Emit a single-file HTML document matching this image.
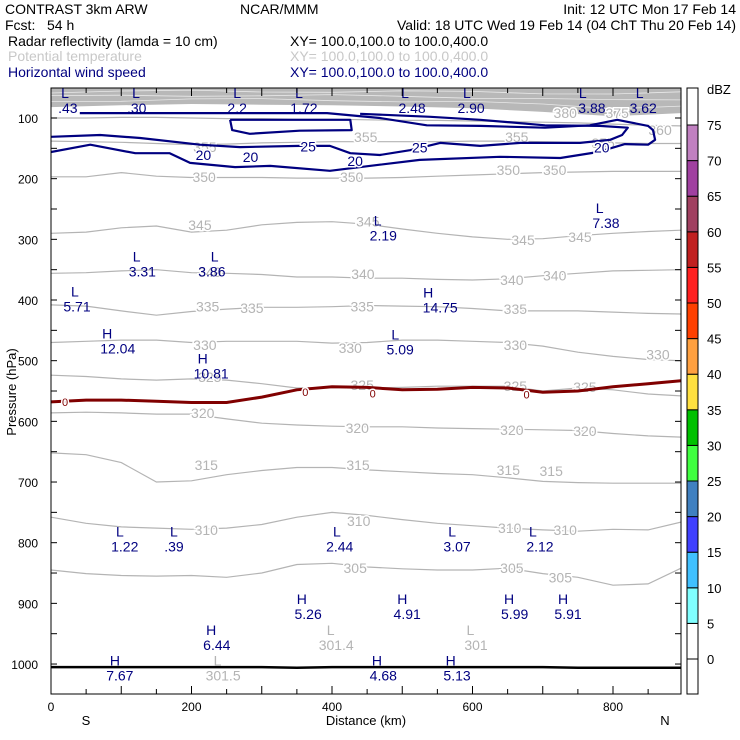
<!DOCTYPE html>
<html><head><meta charset="utf-8"><style>
body{margin:0;background:#fff;}
svg{display:block;font-family:"Liberation Sans",sans-serif;}
</style></head><body>
<svg id="chart" width="740" height="740" viewBox="0 0 740 740" xmlns="http://www.w3.org/2000/svg">
<g font-size="14">
<text x="5" y="14">CONTRAST  3km ARW</text>
<text x="240" y="14">NCAR/MMM</text>
<text x="736" y="14" text-anchor="end">Init: 12 UTC Mon 17 Feb 14</text>
<text x="5" y="30" xml:space="preserve">Fcst:   54 h</text>
<text x="736" y="30" text-anchor="end">Valid: 18 UTC Wed 19 Feb 14 (04 ChT Thu 20 Feb 14)</text>
<text x="8" y="46">Radar reflectivity (lamda = 10 cm)</text>
<text x="290" y="46">XY= 100.0,100.0 to 100.0,400.0</text>
<text x="8" y="61" fill="#c8c8c8">Potential temperature</text>
<text x="290" y="61" fill="#c8c8c8">XY= 100.0,100.0 to 100.0,400.0</text>
<text x="8" y="77" fill="#000080">Horizontal wind speed</text>
<text x="290" y="77" fill="#000080">XY= 100.0,100.0 to 100.0,400.0</text>
</g>
<g id="plot"></g>
</svg>
<script>
const gridKm=[0,50,100,150,200,250,300,350,400,450,500,550,600,650,700,750,800,850,900];
const theta350=[197,197,190,196,198,198,198,199,199,199,198,196,194,192,190,189,188,188,188];
const theta345=[290,288,281,278,288,285,276,272,271,275,283,290,296,300,299,294,290,287,285];
const theta340=[356,355,352,350,355,356,358,362,362,364,364,366,367,365,360,356,352,351,350];
const theta335=[408,410,418,425,419,415,412,412,411,409,410,411,414,418,418,418,420,422,423];
const theta330=[470,468,466,466,470,468,468,468,471,470,466,466,468,470,476,486,493,498,500];
const theta325=[524,526,530,532,530,532,538,545,544,545,544,542,542,542,550,545,548,555,558];
const theta320=[586,585,586,588,588,596,603,606,608,609,609,611,612,613,614,615,620,624,626];
const theta315=[652,655,668,700,698,688,681,676,676,680,683,686,688,693,699,701,702,702,702];
const theta310=[758,768,774,776,778,776,770,758,750,755,762,768,772,776,779,781,778,779,766];
const theta305=[845,851,854,855,854,857,850,836,834,840,843,845,845,842,851,857,870,868,842];
const theta360=[100,100,99,99,100,101,101,102,102,103,104,104,105,106,107,108,110,112,113];
const theta355=[138,139,140,142,144,143,141,140,139,139,139,139,138,138,139,140,141,142,142];
const freezing=[568,565,565,567,569,569,560,548,543,544,548,547,544,545,552,550,543,538,533];
const ground=[1005,1005,1005,1005,1005,1005,1005,1006,1005,1005,1005,1005,1005,1005,1005,1006,1006,1006,1006];
const bandKm=[0,100,200,300,400,500,600,700,800,900];
const bandP=[82,79,77,78,79,81,84,90,97,92];
const wind20=[[0,156],[56,144],[120,158],[169,158],[198,174],[262,181],[312,179],[397,187],[468,177],[525,169],[639,164],[725,166],[779,156],[817,143],[850,144],[860,136],[857,120],[850,113],[806,103],[767,112],[703,116],[611,113],[535,112],[468,100],[393,92],[212,92],[41,92]];
const wind25=[[0,131],[70,128],[127,133],[212,144],[269,148],[354,146],[397,146],[426,158],[468,161],[511,153],[554,141],[611,146],[668,141],[753,141],[796,136],[813,128],[821,116],[781,113],[703,112],[611,103],[540,98],[440,93]];
const wind25b=[[255,103],[426,103],[428,120],[354,121],[283,126],[258,120],[255,103]];
const windLabels=[["20",217,161],["20",284,164],["20",433,171],["20",784,149],["25",366,147],["25",525,149]];
const extremaType=["L","L","L","L","L","L","L","L","L","L","L","L","L","H","H","L","H","L","L","L","L","L","H","H","H","H","H","H","H","H"];
const extremaVal=[".43",".30","2.2","1.72","2.48","2.90","3.88","3.62","7.38","2.19","3.31","3.86","5.71","14.75","12.04","5.09","10.81","1.22",".39","2.44","3.07","2.12","5.26","4.91","5.99","5.91","6.44","7.67","4.68","5.13"];
const extremaLetterKm=[20,121,265,353,504,592,757,838,781,465,122,233,34,537,80,490,216,98,175,407,571,686,357,500,652,729,228,91,464,569];
const extremaValueKm=[24,122,265,360,514,598,770,843,790,473,130,229,37,554,95,497,228,105,175,411,578,696,366,507,660,736,236,98,473,578];
const extremaP=[80,80,80,80,80,80,80,80,270,290,350,350,407,409,477,478,518,803,803,803,803,803,914,914,914,914,965,1016,1016,1016];
const grayExType=["L","L","L"];
const grayExVal=["301.4","301","301.5"];
const grayExKm=[406,605,245];
const grayExP=[965,965,1016];
const thetaLabelText=["355","355","355","355","350","350","350","350","345","345","345","345","340","340","340","340","335","335","335","335","330","330","330","330","325","325","325","325","320","320","320","320","315","315","315","315","310","310","310","310","305","305","305","380","375","360"];
const thetaLabelKm=[219,448,663,786,218,428,651,717,212,451,672,753,226,444,656,717,223,286,443,661,219,426,661,864,226,443,661,760,216,436,656,760,221,437,651,712,221,438,653,732,433,656,725,732,806,867];
const thetaLabelP=[148,131,131,141,197,197,186,186,276,271,301,296,354,357,367,360,411,413,411,415,474,479,474,490,527,540,542,543,586,611,614,616,672,672,680,682,779,764,776,779,842,842,857,92,92,120];
const zeroLabelKm=[20,362,458,677];
const zeroLabelP=[568,552,554,556];
const xTickLabels=[0,200,400,600,800];
const yTickLabels=[100,200,300,400,500,600,700,800,900,1000];
const cbValues=[0,5,10,15,20,25,30,35,40,45,50,55,60,65,70,75];
const cbColors=["#ffffff","#80ffff","#40c0ff","#4040ff","#4080c0","#40ff40","#00c000","#ffe040","#ffa040","#ff4000","#ff2020","#c02020","#a04060","#a040a0","#c080c0","#ffffff"];

const L=51,R=681,T=88,B=694,KMAX=(R-L)/0.7025;
const X=km=>L+km*0.7025;
const Y=p=>118+(p-100)*0.6067;
const CB=v=>659-v*7.12;
const NS="http://www.w3.org/2000/svg";
const plot=document.getElementById('plot');
function mk(tag,attrs,parent){const e=document.createElementNS(NS,tag);for(const k in attrs)e.setAttribute(k,attrs[k]);(parent||plot).appendChild(e);return e;}
function lineFromGrid(arr){return arr.map((p,i)=>(i?'L':'M')+X(Math.min(gridKm[i],KMAX)).toFixed(1)+','+Y(p).toFixed(1)).join('');}
function lineFromPairs(arr){return arr.map((q,i)=>(i?'L':'M')+X(Math.min(q[0],KMAX)).toFixed(1)+','+Y(q[1]).toFixed(1)).join('');}

const defs=mk('defs',{});
const cp=mk('clipPath',{id:'pc'},defs);
mk('rect',{x:L,y:T,width:R-L,height:B-T},cp);
const g=mk('g',{'clip-path':'url(#pc)'});



let bp='M'+L+','+T;
bandKm.forEach((k,i)=>{bp+='L'+X(Math.min(k,KMAX)).toFixed(1)+','+Y(bandP[i]).toFixed(1);});
bp+='L'+R+','+T+'Z';
const band=mk('path',{d:bp,fill:'#b8b8b8'},g);


for(let f=0.2;f<0.95;f+=0.25){
  let d='';
  bandKm.forEach((k,i)=>{const yb=Y(bandP[i]);const yy=T+(yb-T)*f+Math.sin(i*1.7+f*9)*1.2;d+=(i?'L':'M')+X(Math.min(k,KMAX)).toFixed(1)+','+yy.toFixed(1);});
  const wl=mk('path',{d:d,fill:'none',stroke:'#e8e8e8','stroke-width':0.8},g);
  
  
}

const thetaSets=[theta360,theta355,theta350,theta345,theta340,theta335,theta330,theta325,theta320,theta315,theta310,theta305];
thetaSets.forEach(arr=>{
  const pth=mk('path',{d:lineFromGrid(arr),fill:'none',stroke:'#b4b4b4','stroke-width':1.2},g);
  
  
});
thetaLabelText.forEach((t,i)=>{
  const tx=mk('text',{x:X(thetaLabelKm[i]),y:Y(thetaLabelP[i])+5,'text-anchor':'middle','font-size':14,fill:'#b4b4b4',stroke:'#fff','stroke-width':3,'paint-order':'stroke'},g);
  tx.textContent=t;
  
  
});

const fz=mk('path',{d:lineFromGrid(freezing),fill:'none',stroke:'#800000','stroke-width':3},g);


zeroLabelKm.forEach((k,i)=>{
  const tx=mk('text',{x:X(k),y:Y(zeroLabelP[i])+4,'text-anchor':'middle','font-size':11,fill:'#800000',stroke:'#fff','stroke-width':3,'paint-order':'stroke'},g);
  tx.textContent='0';
  
  
});

const gr=mk('path',{d:lineFromGrid(ground),fill:'none',stroke:'#000','stroke-width':2.5},g);



[wind20,wind25,wind25b].forEach(arr=>{
  const w=mk('path',{d:lineFromPairs(arr),fill:'none',stroke:'#000080','stroke-width':2.2,'stroke-linejoin':'round'},g);
  
  
});
windLabels.forEach(l=>{
  const tx=mk('text',{x:X(l[1]),y:Y(l[2])+5,'text-anchor':'middle','font-size':14,fill:'#000080',stroke:'#fff','stroke-width':3,'paint-order':'stroke'},g);
  tx.textContent=l[0];
  
  
});

extremaType.forEach((t,i)=>{
  const a=mk('text',{x:X(Math.min(extremaLetterKm[i],KMAX)),y:Y(extremaP[i])-8,'text-anchor':'middle','font-size':14,fill:'#000080'},g);
  a.textContent=t;
  
  
  const b=mk('text',{x:X(Math.min(extremaValueKm[i],KMAX)),y:Y(extremaP[i])+7,'text-anchor':'middle','font-size':14,fill:'#000080'},g);
  b.textContent=extremaVal[i];
  
  
});
grayExType.forEach((t,i)=>{
  const a=mk('text',{x:X(grayExKm[i]-8),y:Y(grayExP[i])-8,'text-anchor':'middle','font-size':14,fill:'#b4b4b4'},g);
  a.textContent=t;
  
  
  const b=mk('text',{x:X(grayExKm[i]),y:Y(grayExP[i])+7,'text-anchor':'middle','font-size':14,fill:'#b4b4b4'},g);
  b.textContent=grayExVal[i];
  
  
});

const fr=mk('rect',{x:L,y:T,width:R-L,height:B-T,fill:'none',stroke:'#000','stroke-width':1});



for(let k=0;k<=KMAX;k+=50){
  const len=(k%100===0)?8:5;
  const t1=mk('line',{x1:X(k),x2:X(k),y1:B,y2:B-len,stroke:'#000'});
  
  
  const t2=mk('line',{x1:X(k),x2:X(k),y1:T,y2:T+len,stroke:'#000'});
  
  
}
xTickLabels.forEach(v=>{
  const tx=mk('text',{x:X(v),y:B+17,'text-anchor':'middle','font-size':12});
  tx.textContent=v;
  
  
});
for(let p=100;p<=1000;p+=50){
  const t1=mk('line',{x1:L,x2:L+6,y1:Y(p),y2:Y(p),stroke:'#000'});
  
  
  const t2=mk('line',{x1:R,x2:R-6,y1:Y(p),y2:Y(p),stroke:'#000'});
  
  
}
yTickLabels.forEach(v=>{
  const tx=mk('text',{x:38,y:Y(v)+5,'text-anchor':'end','font-size':12});
  tx.textContent=v;
  
  
});
const yt=mk('text',{x:0,y:0,transform:'translate(16,392) rotate(-90)','text-anchor':'middle','font-size':13});
yt.textContent='Pressure (hPa)';


const xt=mk('text',{x:366,y:725,'text-anchor':'middle','font-size':13});
xt.textContent='Distance (km)';


const sl=mk('text',{x:86,y:725,'text-anchor':'middle','font-size':13});
sl.textContent='S';


const nl=mk('text',{x:665,y:725,'text-anchor':'middle','font-size':13});
nl.textContent='N';



const cbx=687,cbw=11;
const cbBg=mk('rect',{x:cbx,y:T,width:cbw,height:B-T,fill:'#fff',stroke:'#000'});


cbValues.forEach((v,i)=>{
  const top=(i<cbValues.length-1)?CB(cbValues[i+1]):T;
  const r=mk('rect',{x:cbx,y:top,width:cbw,height:CB(v)-top,fill:cbColors[i],stroke:'#000','stroke-width':1});
  
  
  const tx=mk('text',{x:707,y:CB(v)+5,'font-size':13});
  tx.textContent=v;
  
  
});
const cbl=mk('rect',{x:cbx,y:CB(0),width:cbw,height:B-CB(0),fill:'#fff',stroke:'#000'});


const unit=mk('text',{x:707,y:94,'font-size':13});
unit.textContent='dBZ';


</script>
</body></html>
